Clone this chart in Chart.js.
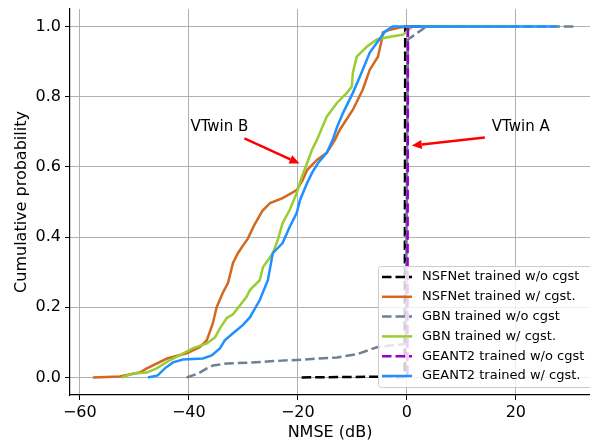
<!DOCTYPE html>
<html><head><meta charset="utf-8">
<script src="https://cdn.jsdelivr.net/npm/chart.js@4/dist/chart.umd.min.js"></script>
<style>html,body{margin:0;padding:0;background:#fff}</style>
</head><body>
<canvas id="c" width="590" height="444"></canvas>
<script>
// ---- data ----
const seriesLabels = ["NSFNet trained w/o cgst","NSFNet trained w/ cgst.","GBN trained w/o cgst","GBN trained w/ cgst.","GEANT2 trained w/o cgst","GEANT2 trained w/ cgst."];
const seriesColors = ["#000000","#D2691E","#708090","#9ACD32","#9400D3","#1E90FF"];
const seriesDashed = [true,false,true,false,true,false];

const nsfWoX = [-19.3,-0.4,-0.3,5];
const nsfWoY = [0,0.003,1,1];
const nsfWX = [-57.6,-52.7,-49,-47.7,-44,-40.4,-38,-36.7,-35.6,-34.9,-33.8,-32.8,-31.9,-31,-30.1,-29.2,-28,-26.5,-25.1,-22.8,-20.2,-19.1,-18.3,-16.5,-14.7,-13.2,-12.3,-9.9,-8.1,-6.8,-5.3,-4.6,-4.4,-3.1,-1.3,0,10];
const nsfWY = [0,0.003,0.014,0.026,0.054,0.069,0.086,0.106,0.154,0.2,0.24,0.27,0.326,0.354,0.375,0.395,0.434,0.475,0.497,0.511,0.534,0.563,0.591,0.62,0.64,0.677,0.706,0.763,0.82,0.877,0.914,0.963,0.983,0.991,0.997,1,1];
const gbnWoX = [-40.4,-38.3,-36.7,-35.6,-33,-28.8,-25.1,-19.1,-12.8,-9.2,-5.5,-3.1,-0.2,0.2,2.75,3.5,31];
const gbnWoY = [0,0.011,0.026,0.034,0.040,0.042,0.046,0.051,0.057,0.066,0.086,0.091,0.095,0.963,0.991,1,1];
const gbnWX = [-52.3,-50.3,-47.7,-45.9,-43.5,-41.7,-39.3,-36.7,-35.2,-34.3,-33,-31.9,-30.6,-29.4,-28.8,-27,-26.4,-24.6,-23.7,-22.8,-21.5,-20.2,-19.3,-18.3,-17.4,-16.5,-14.7,-12.8,-11,-10.1,-9.9,-9.2,-7.3,-5.5,-3.1,-0.7,0,1,20];
const gbnWY = [0,0.011,0.014,0.026,0.049,0.063,0.083,0.097,0.114,0.14,0.17,0.18,0.206,0.23,0.249,0.277,0.314,0.354,0.391,0.44,0.477,0.526,0.571,0.611,0.649,0.677,0.743,0.783,0.811,0.829,0.869,0.914,0.943,0.963,0.971,0.977,0.986,1,1];
const geaWoX = [-2,0.1,0.2,3];
const geaWoY = [0,0.002,1,1];
const geaWX = [-47.5,-45.7,-44.4,-42.9,-41.1,-37.4,-35.8,-34.3,-33.4,-31.9,-30.1,-28.8,-27,-25.5,-24.6,-22.8,-21.5,-20.2,-19.6,-18.3,-17.4,-16.3,-14.7,-13.6,-12.8,-11.7,-9.9,-8.3,-6.8,-5.5,-4,-2.6,27.5];
const geaWY = [0,0.006,0.026,0.043,0.051,0.054,0.063,0.083,0.106,0.126,0.149,0.171,0.22,0.277,0.354,0.383,0.429,0.469,0.506,0.554,0.583,0.611,0.64,0.677,0.714,0.754,0.811,0.869,0.926,0.954,0.986,1,1];

const xTicks = [-60,-40,-20,0,20];
const yTicks = [0,0.2,0.4,0.6,0.8,1.0];
const xTitle = "NMSE (dB)";
const yTitle = "Cumulative probability";

const annotTexts = ["VTwin B","VTwin A"];
const annotTextX = [-34.4,20.9];
const annotTextY = [0.712,0.712];
const arrowFromX = [-29.8,14.3];
const arrowFromY = [0.681,0.684];
const arrowToX = [-19.7,0.9];
const arrowToY = [0.61,0.661];

// ---- build ----
const xs = [nsfWoX,nsfWX,gbnWoX,gbnWX,geaWoX,geaWX];
const ys = [nsfWoY,nsfWY,gbnWoY,gbnWY,geaWoY,geaWY];
const FONT = '"DejaVu Sans", "Liberation Sans", sans-serif';

const datasets = seriesLabels.map((lab,i)=>({
  label: lab,
  data: xs[i].map((v,k)=>({x:v,y:ys[i][k]})),
  showLine: true,
  borderColor: seriesColors[i],
  backgroundColor: seriesColors[i],
  borderWidth: 2.5,
  borderDash: seriesDashed[i] ? [9.5,4] : [],
  pointRadius: 0,
  fill: false,
  tension: 0,
  order: 5 - i
}));

const fmt = v => {
  const s = String(Math.abs(v));
  return v < 0 ? '\u2212' + s : s;
};

const legendPlugin = {
  id: 'customLegend',
  afterDraw(chart){
    const ctx = chart.ctx, ca = chart.chartArea;
    const right = ca.right + 4, left = 378, bottom = ca.bottom - 8, top = 266;
    ctx.save();
    ctx.beginPath();
    if (ctx.roundRect) ctx.roundRect(left+0.5, top+0.5, right-left, bottom-top, 3);
    else ctx.rect(left+0.5, top+0.5, right-left, bottom-top);
    ctx.fillStyle = 'rgba(255,255,255,0.8)';
    ctx.fill();
    ctx.strokeStyle = '#cccccc';
    ctx.lineWidth = 1;
    ctx.stroke();
    ctx.font = '13px ' + FONT;
    ctx.textBaseline = 'middle';
    ctx.textAlign = 'left';
    chart.data.datasets.forEach((ds,i)=>{
      const yy = 277 + i*19.8;
      ctx.strokeStyle = ds.borderColor;
      ctx.lineWidth = ds.borderWidth;
      ctx.setLineDash(ds.borderDash || []);
      ctx.beginPath();
      ctx.moveTo(382, yy); ctx.lineTo(412, yy);
      ctx.stroke();
      ctx.setLineDash([]);
      ctx.fillStyle = '#000';
      ctx.fillText(ds.label, 422, yy);
    });
    ctx.restore();
  }
};

const annotPlugin = {
  id: 'annot',
  afterDatasetsDraw(chart){
    const ctx = chart.ctx, x = chart.scales.x, y = chart.scales.y;
    ctx.save();
    ctx.font = '15px ' + FONT;
    ctx.textAlign = 'center';
    ctx.textBaseline = 'middle';
    annotTexts.forEach((t,i)=>{
      ctx.fillStyle = '#000';
      ctx.fillText(t, x.getPixelForValue(annotTextX[i]), y.getPixelForValue(annotTextY[i]));
      const x0 = x.getPixelForValue(arrowFromX[i]), y0 = y.getPixelForValue(arrowFromY[i]);
      const x1 = x.getPixelForValue(arrowToX[i]), y1 = y.getPixelForValue(arrowToY[i]);
      const ang = Math.atan2(y1-y0, x1-x0), hl = 10, hw = 4.5;
      const bx = x1 - hl*Math.cos(ang), by = y1 - hl*Math.sin(ang);
      ctx.strokeStyle = 'red'; ctx.lineWidth = 2.5;
      ctx.beginPath(); ctx.moveTo(x0,y0); ctx.lineTo(bx,by); ctx.stroke();
      ctx.fillStyle = 'red';
      ctx.beginPath();
      ctx.moveTo(x1,y1);
      ctx.lineTo(bx - hw*Math.sin(ang), by + hw*Math.cos(ang));
      ctx.lineTo(bx + hw*Math.sin(ang), by - hw*Math.cos(ang));
      ctx.closePath(); ctx.fill();
    });
    ctx.restore();
  }
};

new Chart(document.getElementById('c'), {
  type: 'scatter',
  data: { datasets },
  options: {
    responsive: false,
    animation: false,
    devicePixelRatio: 1,
    layout: { padding: { top: 9, right: 0, left: 0, bottom: 0 } },
    plugins: { legend: { display: false }, tooltip: { enabled: false } },
    scales: {
      x: {
        type: 'linear', min: -61.8, max: 33.6,
        afterBuildTicks: s => { s.ticks = xTicks.map(v => ({ value: v })); },
        afterFit: s => { s.height = 49; s.paddingLeft = 0; s.paddingRight = 0; },
        ticks: { callback: v => fmt(v), color: '#000', font: { family: FONT, size: 16 }, padding: 3, maxRotation: 0, autoSkip: false },
        grid: { color: '#b0b0b0', lineWidth: 1, tickLength: 5, tickColor: '#000', tickWidth: 1 },
        border: { display: true, color: '#000', width: 1.2 },
        title: { display: true, text: xTitle, color: '#000', font: { family: FONT, size: 16 }, padding: { top: 0, bottom: 2 } }
      },
      y: {
        type: 'linear', min: -0.05, max: 1.05,
        afterBuildTicks: s => { s.ticks = yTicks.map(v => ({ value: v })); },
        afterFit: s => { s.width = 70; s.paddingTop = 0; s.paddingBottom = 0; },
        ticks: { callback: v => Number(v).toFixed(1), color: '#000', font: { family: FONT, size: 16 }, padding: 4, autoSkip: false },
        grid: { color: '#b0b0b0', lineWidth: 1, tickLength: 5, tickColor: '#000', tickWidth: 1 },
        border: { display: true, color: '#000', width: 1.2 },
        title: { display: true, text: yTitle, color: '#000', font: { family: FONT, size: 16 }, padding: { top: 12, bottom: 0 } }
      }
    }
  },
  plugins: [annotPlugin, legendPlugin]
});
</script>
</body></html>
